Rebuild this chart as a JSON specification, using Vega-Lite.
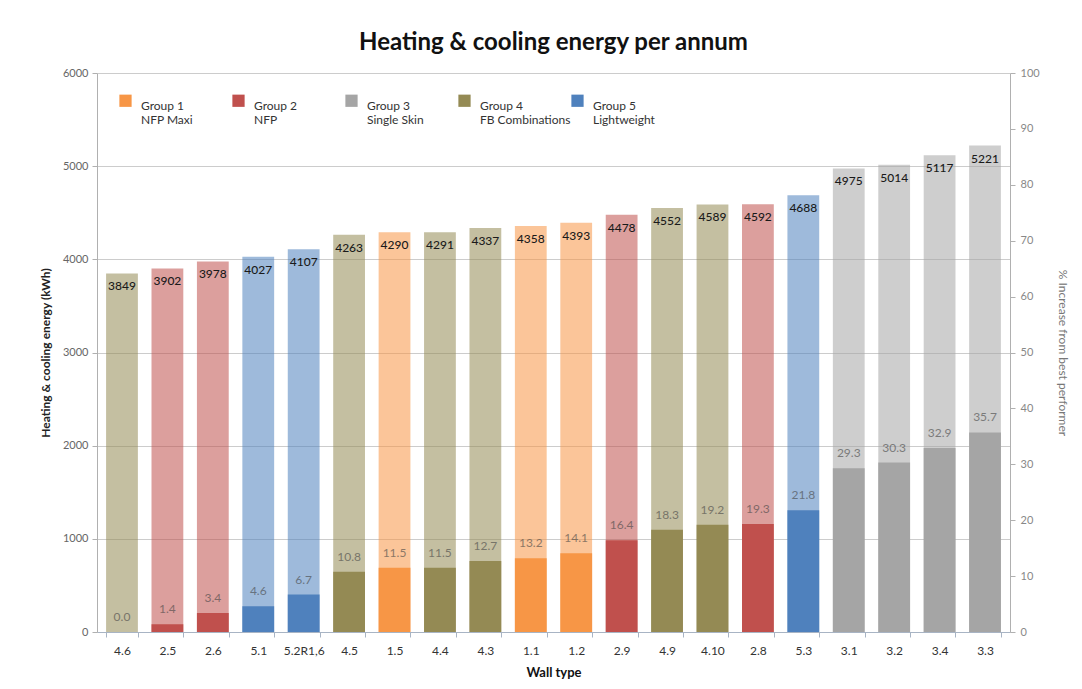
{
  "$schema": "https://vega.github.io/schema/vega-lite/v6.json",
  "width": 913,
  "height": 559,
  "autosize": "none",
  "padding": {"left": 97, "top": 73, "right": 72, "bottom": 57},
  "background": "white",
  "title": {"text": "Heating & cooling energy per annum", "fontSize": 24, "font": "Lato", "fontWeight": "bold", "color": "#111111", "offset": 12, "anchor": "middle"},
  "config": {"view": {"stroke": null}, "font": "Lato"},
  "data": {"values": [
    {"wall": "4.6", "energy": 3849, "pct": 0.0, "legend": "Group 4|FB Combinations"},
    {"wall": "2.5", "energy": 3902, "pct": 1.4, "legend": "Group 2|NFP"},
    {"wall": "2.6", "energy": 3978, "pct": 3.4, "legend": "Group 2|NFP"},
    {"wall": "5.1", "energy": 4027, "pct": 4.6, "legend": "Group 5|Lightweight"},
    {"wall": "5.2R1,6", "energy": 4107, "pct": 6.7, "legend": "Group 5|Lightweight"},
    {"wall": "4.5", "energy": 4263, "pct": 10.8, "legend": "Group 4|FB Combinations"},
    {"wall": "1.5", "energy": 4290, "pct": 11.5, "legend": "Group 1|NFP Maxi"},
    {"wall": "4.4", "energy": 4291, "pct": 11.5, "legend": "Group 4|FB Combinations"},
    {"wall": "4.3", "energy": 4337, "pct": 12.7, "legend": "Group 4|FB Combinations"},
    {"wall": "1.1", "energy": 4358, "pct": 13.2, "legend": "Group 1|NFP Maxi"},
    {"wall": "1.2", "energy": 4393, "pct": 14.1, "legend": "Group 1|NFP Maxi"},
    {"wall": "2.9", "energy": 4478, "pct": 16.4, "legend": "Group 2|NFP"},
    {"wall": "4.9", "energy": 4552, "pct": 18.3, "legend": "Group 4|FB Combinations"},
    {"wall": "4.10", "energy": 4589, "pct": 19.2, "legend": "Group 4|FB Combinations"},
    {"wall": "2.8", "energy": 4592, "pct": 19.3, "legend": "Group 2|NFP"},
    {"wall": "5.3", "energy": 4688, "pct": 21.8, "legend": "Group 5|Lightweight"},
    {"wall": "3.1", "energy": 4975, "pct": 29.3, "legend": "Group 3|Single Skin"},
    {"wall": "3.2", "energy": 5014, "pct": 30.3, "legend": "Group 3|Single Skin"},
    {"wall": "3.4", "energy": 5117, "pct": 32.9, "legend": "Group 3|Single Skin"},
    {"wall": "3.3", "energy": 5221, "pct": 35.7, "legend": "Group 3|Single Skin"}
  ]},
  "encoding": {
    "x": {
      "field": "wall", "type": "nominal", "sort": null,
      "scale": {"paddingInner": 0.3, "paddingOuter": 0.2},
      "axis": {
        "title": "Wall type", "titleFontSize": 13, "titleFontWeight": "bold", "titleColor": "#111111",
        "titlePadding": 10, "labelAngle": 0, "labelFontSize": 12, "labelColor": "#333333",
        "labelPadding": 8, "tickBand": "extent", "tickSize": 5, "tickColor": "#a8b4c4",
        "domainColor": "#a8b4c4", "grid": false
      }
    }
  },
  "layer": [
    {
      "layer": [
        {
          "mark": {"type": "bar", "opacity": 0.55},
          "encoding": {
            "y": {
              "field": "energy", "type": "quantitative", "scale": {"domain": [0, 6000]},
              "axis": {
                "title": "Heating & cooling energy (kWh)", "titleFontSize": 12, "titleFontWeight": "bold",
                "titleColor": "#222222", "titlePadding": 10, "values": [0, 1000, 2000, 3000, 4000, 5000, 6000],
                "format": "d", "labelColor": "#666666", "labelFontSize": 11, "grid": true, "gridColor": "#cccccc",
                "domainColor": "#b0b0b0", "tickColor": "#b0b0b0", "tickSize": 5, "labelPadding": 4
              }
            },
            "color": {
              "field": "legend", "type": "nominal",
              "scale": {
                "domain": ["Group 1|NFP Maxi", "Group 2|NFP", "Group 3|Single Skin", "Group 4|FB Combinations", "Group 5|Lightweight"],
                "range": ["#F79646", "#C0504D", "#A5A5A5", "#948A54", "#4F81BD"]
              },
              "legend": {
                "orient": "none", "legendX": 22, "legendY": 21, "direction": "horizontal", "columns": 5,
                "title": null, "symbolType": "square", "symbolSize": 150, "symbolOpacity": 1,
                "symbolStrokeWidth": 0, "labelFontSize": 12, "labelColor": "#333333",
                "labelExpr": "split(datum.label, '|')", "labelBaseline": "top", "labelOffset": 9,
                "gridAlign": "all", "columnPadding": 0, "labelLimit": 200,
                "encoding": {"labels": {"update": {"lineHeight": {"value": 19}}}}
              }
            }
          }
        },
        {
          "mark": {"type": "text", "baseline": "top", "dy": 8, "fontSize": 12, "fontWeight": 500, "color": "#1a1a1a"},
          "encoding": {
            "y": {"field": "energy", "type": "quantitative"},
            "text": {"field": "energy", "type": "quantitative", "format": "d"}
          }
        }
      ]
    },
    {
      "layer": [
        {
          "mark": {"type": "bar"},
          "encoding": {
            "y": {
              "field": "pct", "type": "quantitative", "scale": {"domain": [0, 100]},
              "axis": {
                "orient": "right", "title": "% Increase from best performer", "titleFontSize": 12,
                "titleFontWeight": "normal", "titleColor": "#777777", "titlePadding": 16,
                "values": [0, 10, 20, 30, 40, 50, 60, 70, 80, 90, 100], "labelColor": "#888888",
                "labelFontSize": 11, "grid": false, "domainColor": "#b0b0b0", "tickColor": "#b0b0b0",
                "tickSize": 5, "labelPadding": 5
              }
            },
            "color": {"field": "legend", "type": "nominal"}
          }
        },
        {
          "mark": {"type": "text", "baseline": "bottom", "dy": -8, "fontSize": 12, "color": "#444444", "opacity": 0.6},
          "encoding": {
            "y": {"field": "pct", "type": "quantitative"},
            "text": {"field": "pct", "type": "quantitative", "format": ".1f"}
          }
        }
      ]
    }
  ],
  "resolve": {"scale": {"y": "independent"}}
}
